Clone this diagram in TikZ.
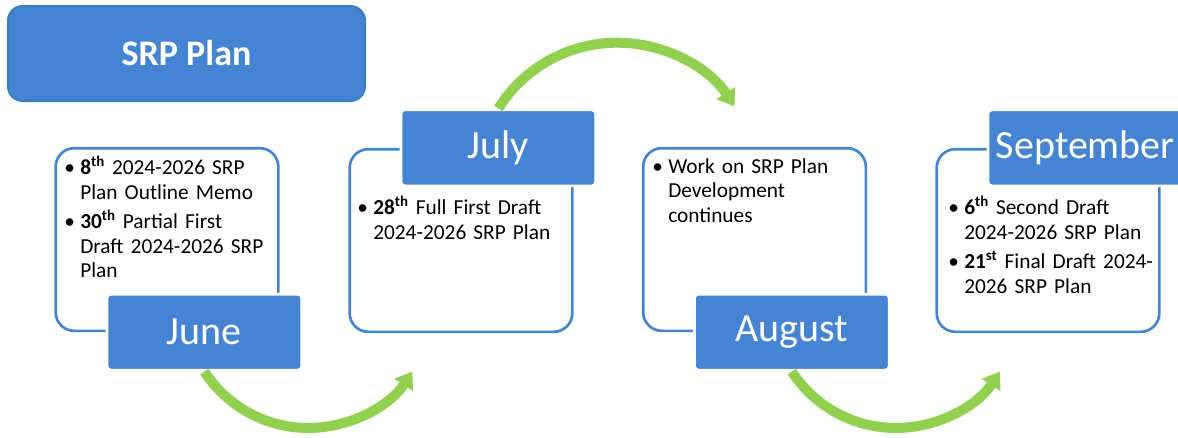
\documentclass[tikz,border=0pt]{standalone}
\usepackage{fontspec}
\setmainfont{Carlito}
\usetikzlibrary{arrows.meta,positioning}
\definecolor{srpblue}{HTML}{4584D3}
\definecolor{srpedge}{HTML}{3B7CC4}
\definecolor{srpgreen}{HTML}{92D050}
\newcommand{\srpitem}[1]{\noindent\raggedright\hangindent=12pt\hangafter=1\makebox[12pt][l]{\strut\textbullet}#1\par\vspace{3.5pt}}

\begin{document}
\begin{tikzpicture}[x=0.75pt,y=0.75pt]
\tikzset{
  headbox/.style={draw=srpedge, line width=1.5pt, fill=srpblue, rounded corners=11pt, minimum width=267.75pt, minimum height=71.25pt, text=white, font=\fontsize{27}{32}\selectfont\bfseries},
  panel/.style={draw=srpblue, line width=2pt, fill=white, rounded corners=14pt, minimum width=167pt, minimum height=137pt},
  monthlbl/.style={draw=white, line width=2pt, fill=srpblue, rounded corners=3pt, minimum width=146pt, minimum height=57pt, text=white, font=\fontsize{30}{36}\selectfont},
  notes/.style={anchor=north west, inner sep=0pt, text width=162pt, font=\fontsize{16}{18.5}\selectfont},
  flow/.style={draw=srpgreen, line width=7.5pt, -{Triangle[width=16pt,length=12pt]}}
}
\useasboundingbox (0,0) rectangle (1178,437);
%title
\node[headbox] (title) at (186.5,383.5) {SRP Plan};
%panels
\node[panel] (junepanel) at (167,197.5) {};
\node[panel] (julypanel) at (461,196.5) {};
\node[panel] (augpanel) at (754.5,197.5) {};
\node[panel] (seppanel) at (1048,196.5) {};
%months
\node[monthlbl] (junelbl) at ([xshift=28pt]junepanel.south) {June};
\node[monthlbl] (julylbl) at ([xshift=28pt]julypanel.north) {July};
\node[monthlbl] (auglbl) at ([xshift=28pt]augpanel.south) {August};
\node[monthlbl] (seplbl) at ([xshift=28pt]seppanel.north) {September};
%notes
\node[notes] (junenotes) at (64,281.5) {%
\srpitem{\textbf{8\textsuperscript{th}} 2024-2026 SRP\newline Plan Outline Memo}
\srpitem{\textbf{30\textsuperscript{th}} Partial First\newline Draft 2024-2026 SRP\newline Plan}};
\node[notes] (julynotes) at (357,241.5) {%
\srpitem{\textbf{28\textsuperscript{th}} Full First Draft\newline 2024-2026 SRP Plan}};
\node[notes] (augnotes) at (652,281.5) {%
\srpitem{Work on SRP Plan\newline Development\newline continues}};
\node[notes] (sepnotes) at (948,241.5) {%
\srpitem{\textbf{6\textsuperscript{th}} Second Draft\newline 2024-2026 SRP Plan}
\srpitem{\textbf{21\textsuperscript{st}} Final Draft 2024-\newline 2026 SRP Plan}};
%arrows
\draw[flow] (junelbl.south) arc[start angle=213, end angle=327, radius=124];
\draw[flow] (julylbl.north) arc[start angle=148, end angle=33, radius=140];
\draw[flow] (auglbl.south) arc[start angle=213, end angle=327, radius=124];
\end{tikzpicture}
\end{document}
